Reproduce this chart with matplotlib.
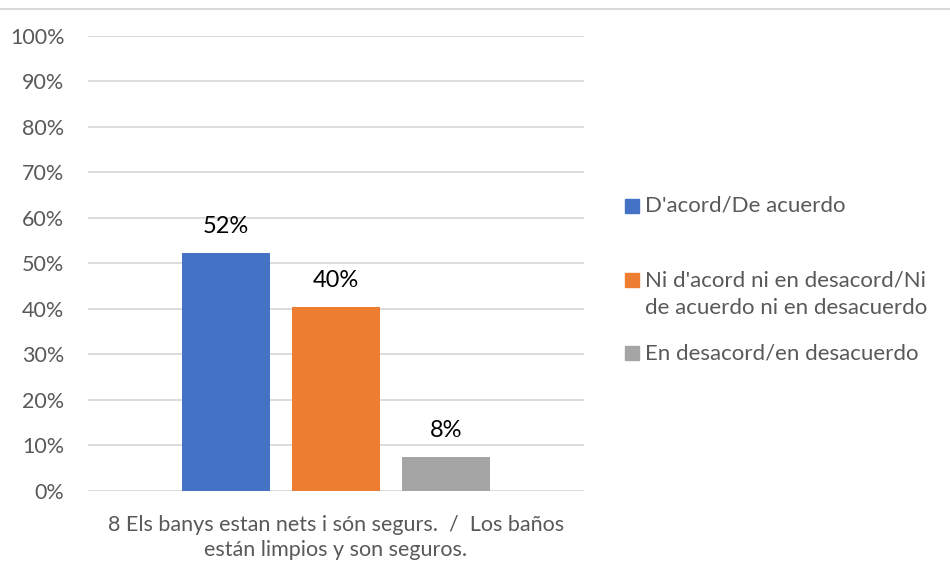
import numpy as np
import matplotlib.pyplot as plt
from matplotlib.patches import Rectangle
from matplotlib.lines import Line2D

plt.rcParams['font.family'] = ['Lato', 'DejaVu Sans']

category = "8 Els banys estan nets i són segurs.  /  Los baños\nestán limpios y son seguros."
series = ["D'acord/De acuerdo",
          "Ni d'acord ni en desacord/Ni\nde acuerdo ni en desacuerdo",
          "En desacord/en desacuerdo"]
values = [52.2, 40.3, 7.5]
colors = ['#4472C4', '#ED7D31', '#A5A5A5']

fig = plt.figure(figsize=(9.5, 5.7), dpi=100)
ax = fig.add_axes([88/950, 1 - 491/570, 496/950, 455.5/570])

pos = np.arange(len(values)) - 1
bars = ax.bar(pos, values, width=0.8, color=colors, zorder=3)
for b, v in zip(bars, values):
    ax.text(b.get_x() + b.get_width()/2, v + 3.5, '%d%%' % round(v),
            ha='center', va='bottom', fontsize=17, color='#000000')

ax.set_xlim(-2.25, 2.25)
ax.set_ylim(0, 100)
ax.set_yticks(np.arange(0, 101, 10))
ax.set_yticklabels(['%d%%' % t for t in range(0, 101, 10)])
ax.yaxis.grid(True, color='#D9D9D9', linewidth=1.3, zorder=0)
ax.tick_params(axis='y', length=0, pad=17, labelsize=15.5, labelcolor='#595959')
ax.set_xticks([0])
ax.set_xticklabels([category], linespacing=1.35)
ax.tick_params(axis='x', length=0, pad=17, labelsize=15.5, labelcolor='#595959')
for s in ax.spines.values():
    s.set_visible(False)

# legend drawn by hand (uneven spacing in the original)
leg_y = [206, 294, 353]
for name, c, y in zip(series, colors, leg_y):
    nl = name.count('\n')
    sy = y - nl * 14
    fig.patches.append(Rectangle((625/950, 1 - (sy + 7)/570), 14/950, 14/570,
                                 transform=fig.transFigure, color=c))
    fig.text(645/950, 1 - y/570, name, fontsize=16, color='#595959',
             va='center', ha='left', linespacing=1.45)

fig.add_artist(Line2D([0, 1], [1 - 9/570, 1 - 9/570], transform=fig.transFigure,
                      color='#D9D9D9', linewidth=1.5))

plt.savefig('out.png', dpi=100)
